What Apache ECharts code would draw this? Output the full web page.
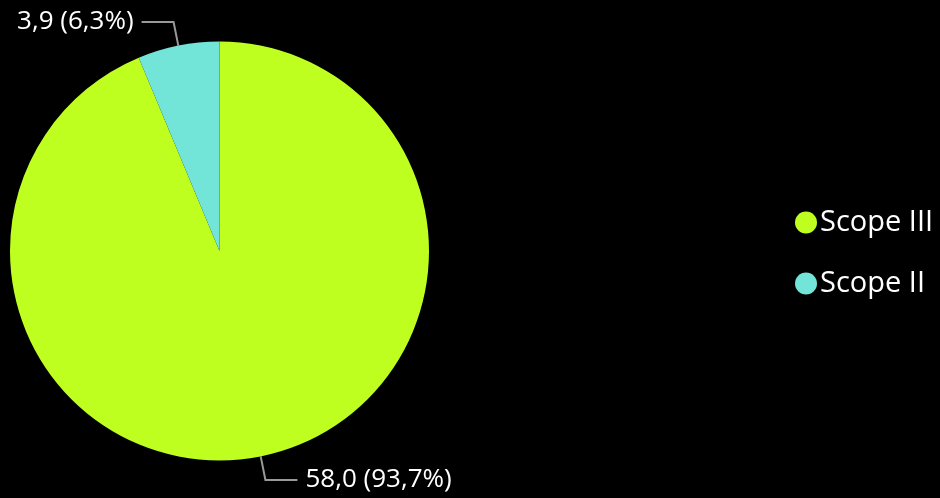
<!DOCTYPE html>
<html>
<head>
<meta charset="utf-8">
<script src="https://cdn.jsdelivr.net/npm/echarts@6/dist/echarts.min.js"></script>
<style>
html,body{margin:0;padding:0;background:#000;}
#c{width:940px;height:498px;}
</style>
</head>
<body>
<div id="c"></div>
<script>
var categories = ['Scope III', 'Scope II'];
var values = [58.0, 3.9];
var colors = ['#bfff1f', '#72e5d8'];

function fmt(n){ return n.toFixed(1).replace('.', ','); }

var chart = echarts.init(document.getElementById('c'));
chart.setOption({
  backgroundColor: '#000',
  animation: false,
  color: colors,
  legend: {
    orient: 'vertical',
    left: 790,
    top: 203,
    icon: 'circle',
    itemWidth: 22,
    itemHeight: 22,
    itemGap: 32,
    itemStyle: { borderWidth: 0 },
    data: categories,
    textStyle: { color: '#fff', fontSize: 29, fontFamily: 'Open Sans', padding: [0, 0, 0, -2] }
  },
  series: [{
    type: 'pie',
    center: [219.5, 251],
    radius: 209.5,
    startAngle: 90,
    clockwise: true,
    data: categories.map(function(c, i){ return { name: c, value: values[i] }; }),
    itemStyle: { borderWidth: 0 },
    label: {
      color: '#fff',
      fontSize: 26,
      fontFamily: 'Open Sans',
      distanceToLabelLine: 8,
      formatter: function(p){ return fmt(p.value) + ' (' + fmt(p.percent) + '%)'; }
    },
    labelLine: {
      length: 24,
      length2: 32,
      lineStyle: { color: '#999', width: 2 }
    }
  }]
});
</script>
</body>
</html>
